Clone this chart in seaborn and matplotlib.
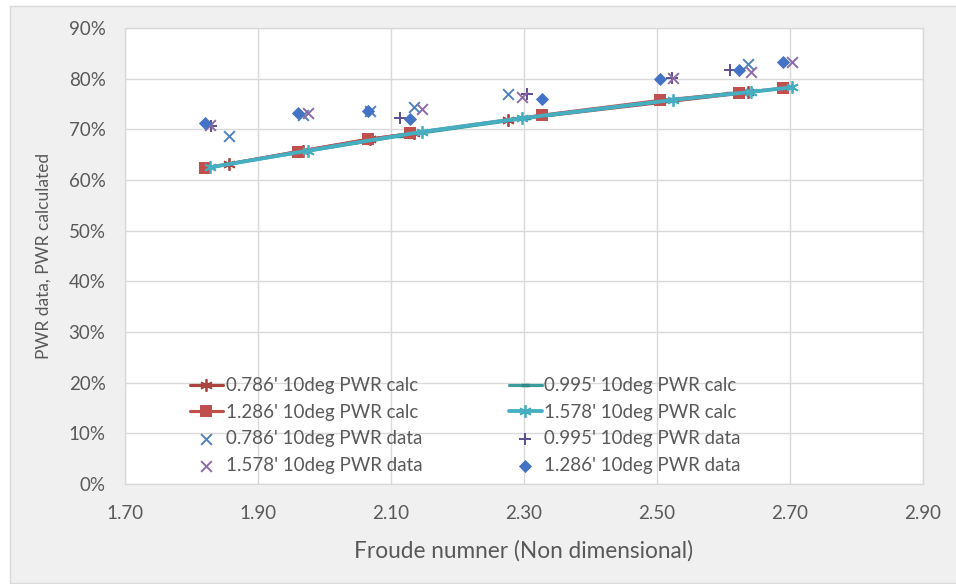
import matplotlib
matplotlib.use("Agg")
import matplotlib.pyplot as plt
from matplotlib.patches import Rectangle
from matplotlib.ticker import FuncFormatter
import seaborn as sns

# Froude number and power ratio (%) for each model length, 10 deg
fr_0786 = [1.857, 1.968, 2.068, 2.135, 2.276, 2.637]
calc_0786 = [63.2, 65.8, 68.1, 69.2, 71.8, 77.3]
data_0786 = [68.6, 72.8, 73.7, 74.5, 77.0, 82.9]

fr_0995 = [1.830, 2.114, 2.304, 2.522, 2.610]
calc_0995 = [62.6, 68.7, 72.2, 75.8, 77.1]
data_0995 = [70.6, 72.3, 77.0, 80.1, 81.7]

fr_1286 = [1.821, 1.960, 2.066, 2.129, 2.327, 2.504, 2.623, 2.690]
calc_1286 = [62.3, 65.6, 68.0, 69.2, 72.8, 75.7, 77.2, 78.1]
data_1286 = [71.2, 73.3, 73.7, 72.0, 76.0, 79.9, 81.7, 83.2]

fr_1578 = [1.828, 1.975, 2.146, 2.297, 2.524, 2.642, 2.703]
calc_1578 = [62.5, 65.8, 69.5, 72.2, 75.8, 77.4, 78.3]
data_1578 = [70.8, 73.2, 74.0, 76.4, 80.1, 81.4, 83.3]

x_ticks = [1.70, 1.90, 2.10, 2.30, 2.50, 2.70, 2.90]
y_ticks = [0, 10, 20, 30, 40, 50, 60, 70, 80, 90]

sns.set_theme(style="white")
plt.rcParams["font.family"] = ["Lato", "DejaVu Sans"]
text_col = "#595959"
grid_col = "#D9D9D9"
fs = 13.5

fig = plt.figure(figsize=(9.56, 5.84), dpi=100)
fig.patch.set_facecolor("white")
fig.patches.append(Rectangle((10 / 956, 1 / 584), 1.0, 577 / 584, transform=fig.transFigure,
                             facecolor="#F0F0F0", edgecolor=grid_col, linewidth=1.0, zorder=-10))

ax = fig.add_axes([125 / 956, 100 / 584, 798 / 956, 456 / 584])
ax.set_facecolor("white")

# calculated curves
sns.lineplot(x=fr_0786, y=calc_0786, ax=ax, color="#A9443F", lw=2.25, marker=(6, 2, 0),
             markersize=9, markeredgewidth=1.3, markeredgecolor="#A9443F", sort=False,
             label="0.786' 10deg PWR calc", zorder=3)
sns.lineplot(x=fr_0995, y=calc_0995, ax=ax, color="#3C9B9B", lw=2.25, marker="_",
             markersize=6, markeredgewidth=2.5, markeredgecolor="#2F8A8A", sort=False,
             label="0.995' 10deg PWR calc", zorder=3)
sns.lineplot(x=fr_1286, y=calc_1286, ax=ax, color="#C0504D", lw=2.25, marker="s",
             markersize=9, markeredgewidth=0, sort=False,
             label="1.286' 10deg PWR calc", zorder=3)
sns.lineplot(x=fr_1578, y=calc_1578, ax=ax, color="#45AEC0", lw=2.75, marker=(6, 2, 0),
             markersize=9, markeredgewidth=1.3, markeredgecolor="#45AEC0", sort=False,
             label="1.578' 10deg PWR calc", zorder=4)

# measured points
sns.scatterplot(x=fr_0786, y=data_0786, ax=ax, marker="x", s=60, linewidth=1.4,
                color="#5083BC", label="0.786' 10deg PWR data", zorder=5)
sns.scatterplot(x=fr_0995, y=data_0995, ax=ax, marker="+", s=65, linewidth=1.4,
                color="#5D4E90", label="0.995' 10deg PWR data", zorder=5)
sns.scatterplot(x=fr_1578, y=data_1578, ax=ax, marker="x", s=60, linewidth=1.4,
                color="#8C6BA8", label="1.578' 10deg PWR data", zorder=5)
sns.scatterplot(x=fr_1286, y=data_1286, ax=ax, marker="D", s=45, linewidth=0,
                color="#4472C4", label="1.286' 10deg PWR data", zorder=6)

ax.set_xlim(1.70, 2.90)
ax.set_ylim(0, 90)
ax.set_xticks(x_ticks)
ax.set_yticks(y_ticks)
ax.xaxis.set_major_formatter(FuncFormatter(lambda v, p: f"{v:.2f}"))
ax.yaxis.set_major_formatter(FuncFormatter(lambda v, p: f"{v:.0f}%"))
ax.grid(True, color=grid_col, linewidth=1.0)
ax.set_axisbelow(True)
for s in ax.spines.values():
    s.set_color(grid_col)
    s.set_linewidth(1.0)
ax.tick_params(axis="both", length=0, labelsize=fs, labelcolor=text_col)
ax.tick_params(axis="x", pad=15)
ax.tick_params(axis="y", pad=14)

ax.set_xlabel("Froude numner (Non dimensional)", fontsize=16.3, color=text_col, labelpad=13)
ax.set_ylabel("PWR data, PWR calculated", fontsize=12.5, color=text_col, labelpad=12)

# legend laid out in two columns, read row by row
h, l = ax.get_legend_handles_labels()
lookup = dict(zip(l, h))
order = ["0.786' 10deg PWR calc", "1.286' 10deg PWR calc", "0.786' 10deg PWR data",
         "1.578' 10deg PWR data", "0.995' 10deg PWR calc", "1.578' 10deg PWR calc",
         "0.995' 10deg PWR data", "1.286' 10deg PWR data"]
leg = ax.legend([lookup[k] for k in order], order, ncol=2, frameon=False,
                loc="upper left", bbox_to_anchor=(0.072, 0.25), fontsize=fs,
                handlelength=1.76, handletextpad=0.15, columnspacing=4.6, labelspacing=0.5,
                borderaxespad=0)
for t in leg.get_texts():
    t.set_color(text_col)

fig.savefig("out.png", dpi=100, facecolor=fig.get_facecolor())
